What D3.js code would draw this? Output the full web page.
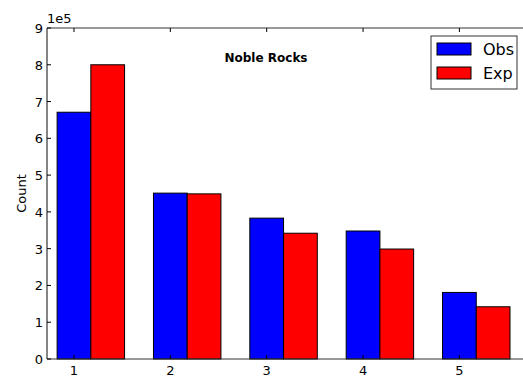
<!DOCTYPE html>
<html>
<head>
<meta charset="utf-8">
<script src="https://cdn.jsdelivr.net/npm/d3@7/dist/d3.min.js"></script>
<style>
  body { margin: 0; background: #fff; }
  text { font-family: "DejaVu Sans", sans-serif; fill: #000; }
</style>
</head>
<body>
<svg id="chart" width="523" height="377"></svg>
<script>
// values in units of 1e5
const groups = [1, 2, 3, 4, 5];
const obs = [6.71, 4.51, 3.83, 3.48, 1.81];
const exp = [8.0, 4.49, 3.42, 2.99, 1.42];
const yTicks = [0, 1, 2, 3, 4, 5, 6, 7, 8, 9];
const series = [
    { name: "Obs", values: obs, color: "#0000ff", offset: -0.5 },
    { name: "Exp", values: exp, color: "#ff0000", offset: 0.5 }
];

const barWidth = 0.35;
const margin = { top: 28, right: 0, bottom: 18, left: 47 };
const width = 523, height = 377;

const svg = d3.select("#chart");

const x = d3.scaleLinear()
    .domain([0.72, 5.66])
    .range([margin.left, width - margin.right]);

const y = d3.scaleLinear()
    .domain([0, 9])
    .range([height - margin.bottom, margin.top]);

// bars: obs left of the tick, exp right of it
series.forEach(s => {
    svg.append("g")
        .selectAll("rect")
        .data(groups)
        .join("rect")
        .attr("x", d => x(d + s.offset * barWidth))
        .attr("y", (d, i) => y(s.values[i]))
        .attr("width", x(barWidth) - x(0))
        .attr("height", (d, i) => y(0) - y(s.values[i]))
        .attr("fill", s.color)
        .attr("stroke", "#000")
        .attr("stroke-width", 1);
});

// spines (right one is cut off by the image edge)
const frame = svg.append("g").attr("stroke", "#333").attr("stroke-width", 1.2).attr("fill", "none");
frame.append("line").attr("x1", x.range()[0]).attr("x2", x.range()[1]).attr("y1", y(0)).attr("y2", y(0));
frame.append("line").attr("x1", x.range()[0]).attr("x2", x.range()[1]).attr("y1", y(9)).attr("y2", y(9));
frame.append("line").attr("x1", x.range()[0]).attr("x2", x.range()[0]).attr("y1", y(0)).attr("y2", y(9));

// x axis: inward ticks top and bottom
const xAxis = svg.append("g");
groups.forEach(g => {
    xAxis.append("line").attr("x1", x(g)).attr("x2", x(g))
        .attr("y1", y(0)).attr("y2", y(0) - 4).attr("stroke", "#000");
    xAxis.append("line").attr("x1", x(g)).attr("x2", x(g))
        .attr("y1", y(9)).attr("y2", y(9) + 4).attr("stroke", "#000");
    xAxis.append("text").attr("x", x(g)).attr("y", y(0) + 15.5)
        .attr("text-anchor", "middle").attr("font-size", 13).text(g);
});

// y axis
const yAxis = svg.append("g");
yTicks.forEach(t => {
    yAxis.append("line").attr("x1", margin.left).attr("x2", margin.left + 4)
        .attr("y1", y(t)).attr("y2", y(t)).attr("stroke", "#000");
    yAxis.append("text").attr("x", margin.left - 4).attr("y", y(t) + 5)
        .attr("text-anchor", "end").attr("font-size", 13).text(t);
});
svg.append("text").attr("x", margin.left).attr("y", 23)
    .attr("font-size", 13).text("1e5");

svg.append("text")
    .attr("transform", `translate(26,${(y(0) + y(9)) / 2}) rotate(-90)`)
    .attr("text-anchor", "middle").attr("font-size", 13).text("Count");

// title
svg.append("text").attr("x", 266).attr("y", 62)
    .attr("text-anchor", "middle").attr("font-size", 12)
    .attr("font-weight", "bold").text("Noble Rocks");

// legend
const legend = svg.append("g").attr("transform", "translate(431,36)");
legend.append("rect").attr("width", 86).attr("height", 53)
    .attr("fill", "#fff").attr("stroke", "#333").attr("stroke-width", 1);
series.forEach((s, i) => {
    legend.append("rect").attr("x", 6).attr("y", 7 + i * 24)
        .attr("width", 34).attr("height", 12)
        .attr("fill", s.color).attr("stroke", "#000");
    legend.append("text").attr("x", 52).attr("y", 19 + i * 24)
        .attr("font-size", 16).text(s.name);
});
</script>
</body>
</html>
